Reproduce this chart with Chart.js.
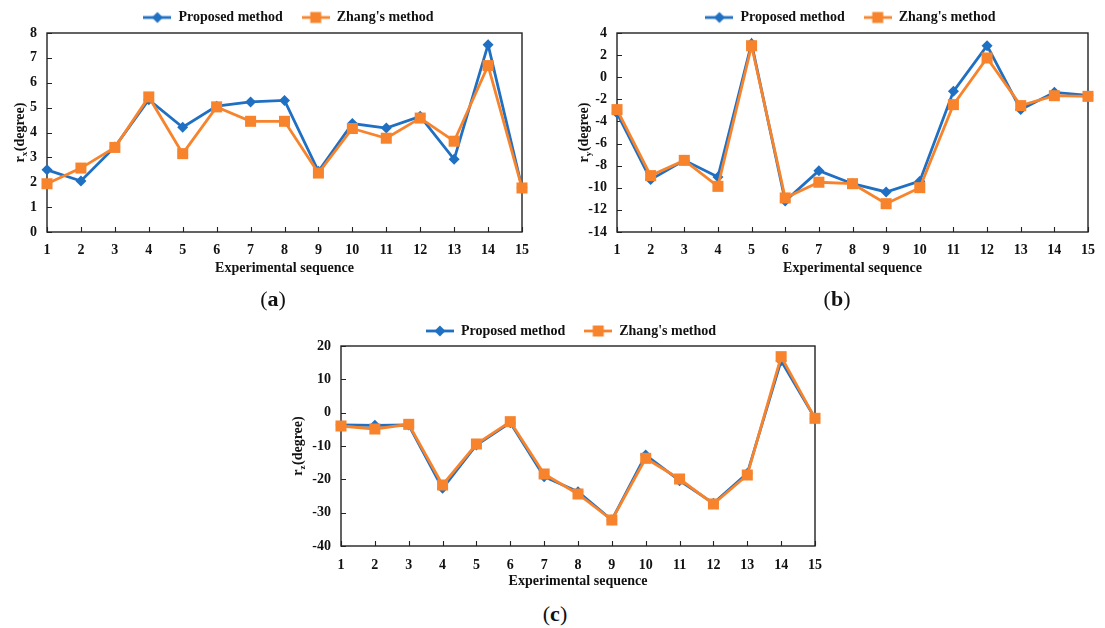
<!DOCTYPE html>
<html><head><meta charset="utf-8">
<script src="https://cdn.jsdelivr.net/npm/chart.js@4.4.1/dist/chart.umd.min.js"></script>
<style>
html,body{margin:0;padding:0;background:#fff;}
body{width:1105px;height:628px;position:relative;overflow:hidden;font-family:'Liberation Serif',serif;}
canvas{position:absolute;display:block;}
.lbl{position:absolute;font-size:22px;transform:translate(-50%,-50%);color:#111;white-space:nowrap;font-family:'Liberation Serif',serif;}
.lbl b{font-weight:bold;}
</style></head><body>
<canvas id="ca" width="555" height="285" style="left:0;top:0"></canvas>
<canvas id="cb" width="550" height="285" style="left:555px;top:0"></canvas>
<canvas id="cc" width="580" height="290" style="left:270px;top:305px"></canvas>
<div class="lbl" style="left:273px;top:299px">(<b>a</b>)</div>
<div class="lbl" style="left:837px;top:299px">(<b>b</b>)</div>
<div class="lbl" style="left:555px;top:614px">(<b>c</b>)</div>
<script>
// ---- data ----
const sequence = ['1','2','3','4','5','6','7','8','9','10','11','12','13','14','15'];
const seriesNames = ['Proposed method', "Zhang's method"];
const rxProposed = [2.50, 2.05, 3.42, 5.32, 4.21, 5.06, 5.23, 5.29, 2.44, 4.36, 4.18, 4.65, 2.92, 7.53, 1.78];
const rxZhang    = [1.94, 2.57, 3.40, 5.43, 3.15, 5.03, 4.45, 4.45, 2.37, 4.16, 3.77, 4.58, 3.65, 6.69, 1.77];
const ryProposed = [-3.24, -9.26, -7.52, -9.02, 3.05, -11.2, -8.45, -9.63, -10.38, -9.40, -1.28, 2.85, -2.93, -1.37, -1.64];
const ryZhang    = [-2.93, -8.90, -7.52, -9.87, 2.85, -10.92, -9.50, -9.63, -11.44, -9.99, -2.48, 1.74, -2.57, -1.67, -1.73];
const rzProposed = [-3.7, -3.8, -3.7, -22.7, -9.7, -3.0, -19.2, -23.7, -32.2, -12.7, -20.4, -27.2, -18.2, 15.6, -1.7];
const rzZhang    = [-4.0, -4.9, -3.5, -21.7, -9.4, -2.7, -18.4, -24.4, -32.2, -13.7, -19.9, -27.4, -18.7, 16.8, -1.7];
const rxTicks = [0, 8, 1];     // min, max, step
const ryTicks = [-14, 4, 2];
const rzTicks = [-40, 20, 10];
const xTitle = 'Experimental sequence';

// ---- style ----
const BLUE = '#1f6fc3';
const ORANGE = '#f7842c';
const FONT = "'Liberation Serif', serif";
const INK = '#111';

function makeIcon(color, shape){
  const c = document.createElement('canvas'); c.width = 28; c.height = 14;
  const g = c.getContext('2d');
  g.strokeStyle = color; g.lineWidth = 2.8;
  g.beginPath(); g.moveTo(0,7); g.lineTo(28,7); g.stroke();
  g.fillStyle = color; g.beginPath();
  if (shape === 'diamond') { g.moveTo(14,1.5); g.lineTo(19.5,7); g.lineTo(14,12.5); g.lineTo(8.5,7); g.closePath(); }
  else { g.rect(8.5,1.5,11,11); }
  g.fill();
  return c;
}
const icons = [makeIcon(BLUE,'diamond'), makeIcon(ORANGE,'square')];

const decor = {
  id: 'decor',
  beforeLayout(chart, args, o){
    const lg = chart.legend;
    if (lg && !lg.__p){
      const f = lg.fit;
      lg.fit = function(){ f.call(this); this.height = o.legendH; };
      lg.__p = true;
    }
  },
  afterLayout(chart, args, o){
    const lg = chart.legend;
    if (lg){ lg.left += o.dx; lg.right += o.dx; lg.top += o.dy; lg.bottom += o.dy; }
  },
  beforeDatasetsDraw(chart){
    const {ctx, chartArea: a, scales: {x, y}} = chart;
    ctx.save();
    ctx.strokeStyle = '#222'; ctx.lineWidth = 1.4;
    ctx.strokeRect(a.left, a.top, a.right - a.left, a.bottom - a.top);
    ctx.lineWidth = 1.1;
    ctx.beginPath();
    x.ticks.forEach((t, i) => { const px = Math.round(x.getPixelForTick(i)) + 0.5; ctx.moveTo(px, a.bottom); ctx.lineTo(px, a.bottom - 5); });
    y.ticks.forEach((t, i) => { const py = Math.round(y.getPixelForTick(i)) + 0.5; ctx.moveTo(a.left, py); ctx.lineTo(a.left + 5, py); });
    ctx.stroke();
    ctx.restore();
  },
  afterDraw(chart, args, o){
    const {ctx, chartArea: a} = chart;
    const cy = (a.top + a.bottom) / 2;
    ctx.save();
    ctx.translate(o.titleX, cy); ctx.rotate(-Math.PI / 2);
    const big = "bold 14px 'Liberation Serif'", small = "bold 9px 'Liberation Serif'";
    ctx.font = big; const w1 = ctx.measureText('r').width, w3 = ctx.measureText('(degree)').width;
    ctx.font = small; const w2 = ctx.measureText(o.sub).width + 0.5;
    let xx = -(w1 + w2 + w3) / 2;
    ctx.fillStyle = INK; ctx.textAlign = 'left'; ctx.textBaseline = 'alphabetic';
    ctx.font = big; ctx.fillText('r', xx, 5); xx += w1;
    ctx.font = small; ctx.fillText(o.sub, xx, 8); xx += w2;
    ctx.font = big; ctx.fillText('(degree)', xx, 5);
    ctx.restore();
  }
};

function build(id, cfg){
  const tickFont = {family: FONT, size: 14, weight: 'bold'};
  return new Chart(document.getElementById(id), {
    type: 'line',
    data: {
      labels: sequence,
      datasets: [
        {label: seriesNames[0], data: cfg.p, borderColor: BLUE, backgroundColor: BLUE,
         pointBackgroundColor: BLUE, pointBorderColor: BLUE, pointStyle: 'rectRot', pointRadius: 5.5,
         pointBorderWidth: 0, borderWidth: 2.8, order: 1, clip: false, tension: 0},
        {label: seriesNames[1], data: cfg.z, borderColor: ORANGE, backgroundColor: ORANGE,
         pointBackgroundColor: ORANGE, pointBorderColor: ORANGE, pointStyle: 'rect', pointRadius: 7.8,
         pointBorderWidth: 0, borderWidth: 2.8, order: 0, clip: false, tension: 0}
      ]
    },
    options: {
      responsive: false, animation: false, events: [],
      layout: {padding: {left: 0, right: cfg.R, top: 0, bottom: 0}},
      plugins: {
        tooltip: {enabled: false},
        legend: {
          display: true, position: 'top', fullSize: false,
          labels: {
            usePointStyle: true, pointStyleWidth: 28, padding: 19, color: INK,
            font: {family: FONT, size: 14, weight: 'bold'},
            generateLabels: (chart) => chart.data.datasets.map((ds, i) => ({
              text: ds.label, pointStyle: icons[i], fillStyle: ds.borderColor, strokeStyle: ds.borderColor,
              lineWidth: 0, hidden: false, datasetIndex: i, fontColor: INK
            }))
          }
        },
        decor: {legendH: cfg.legendH, dx: cfg.dx, dy: cfg.dy, titleX: cfg.titleX, sub: cfg.sub}
      },
      scales: {
        x: {
          type: 'category', offset: false,
          grid: {display: false, drawTicks: false}, border: {display: false},
          ticks: {autoSkip: false, maxRotation: 0, padding: cfg.xPad, color: INK, font: tickFont},
          title: {display: true, text: xTitle, color: INK, font: tickFont, padding: {top: 0, bottom: cfg.tPad}},
          afterFit: (s) => { s.height = cfg.xH; }
        },
        y: {
          min: cfg.ticks[0], max: cfg.ticks[1],
          grid: {display: false, drawTicks: false}, border: {display: false},
          ticks: {stepSize: cfg.ticks[2], padding: 10, color: INK, font: tickFont},
          afterFit: (s) => { s.width = cfg.yW; }
        }
      }
    },
    plugins: [decor]
  });
}

build('ca', {p: rxProposed, z: rxZhang, ticks: rxTicks, sub: 'x',
  yW: 47, R: 33, legendH: 33, xH: 53, xPad: 10, tPad: 8, dx: 4, dy: -8.5, titleX: 19});
build('cb', {p: ryProposed, z: ryZhang, ticks: ryTicks, sub: 'y',
  yW: 62, R: 11, legendH: 33, xH: 53, xPad: 10, tPad: 8, dx: -2, dy: -8.5, titleX: 28});
build('cc', {p: rzProposed, z: rzZhang, ticks: rzTicks, sub: 'z',
  yW: 71, R: 35, legendH: 41, xH: 49, xPad: 11, tPad: 5, dx: -7, dy: 0, titleX: 27});
</script>
</body></html>
